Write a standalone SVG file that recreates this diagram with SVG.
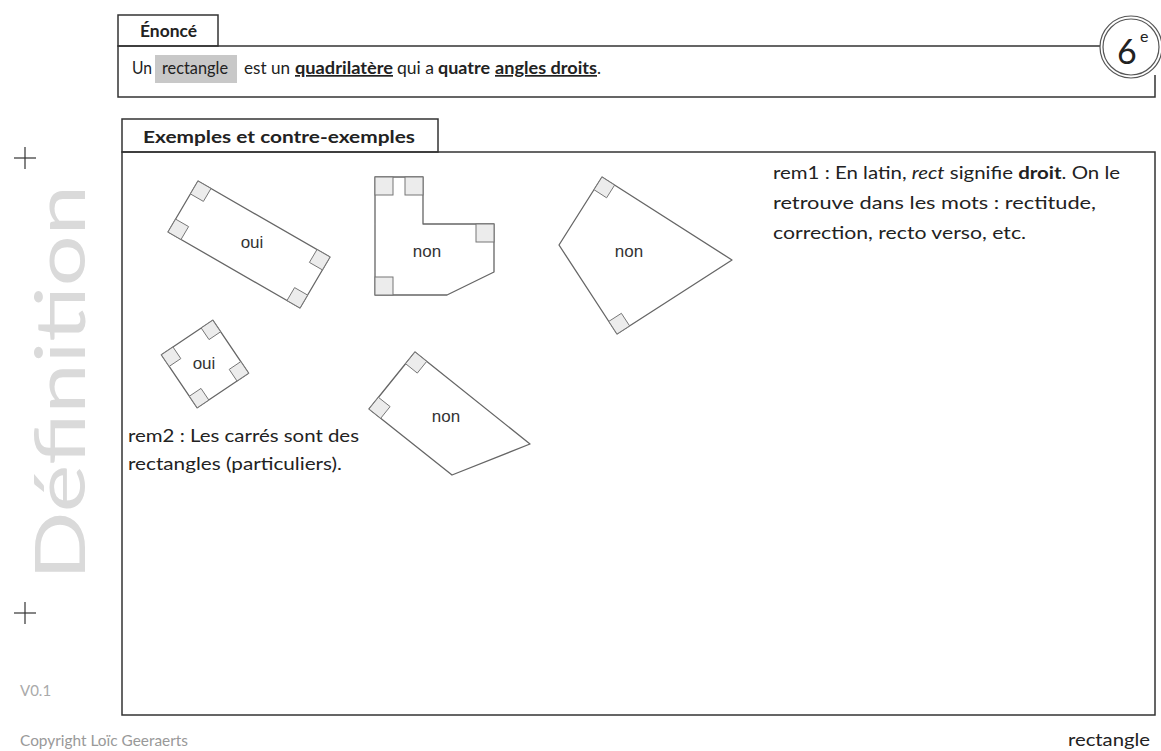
<svg xmlns="http://www.w3.org/2000/svg" width="1161" height="751" viewBox="0 0 1161 751">
<defs>
<style>
.box{fill:none;stroke:#333;stroke-width:1.5}
.tab{fill:#fff;stroke:#333;stroke-width:1.5}
.shape{fill:#fff;stroke:#666;stroke-width:1.3;stroke-linejoin:round}
.ra{fill:#ececec;stroke:#777;stroke-width:1}
.t{font-family:Lato,"Liberation Sans",sans-serif;font-size:17px;fill:#222}
.b{font-weight:bold}
.i{font-style:italic}
.u{text-decoration:underline}
.lbl{font-family:"Liberation Sans",Arial,sans-serif;font-size:17px;fill:#333;text-anchor:middle}
.cross{stroke:#333;stroke-width:1.2}
</style>
</defs>
<rect width="1161" height="751" fill="#fff"/>

<g id="sidebar">
<line class="cross" x1="14" y1="158" x2="36" y2="158"/>
<line class="cross" x1="25" y1="147" x2="25" y2="169"/>
<text transform="translate(85,580) rotate(-90)" font-family="Lato,'Liberation Sans',sans-serif" font-weight="400" font-size="70" fill="#dadada" textLength="395" lengthAdjust="spacingAndGlyphs">Définition</text>
<line class="cross" x1="14" y1="613" x2="36" y2="613"/>
<line class="cross" x1="25" y1="602" x2="25" y2="624"/>
<text x="20" y="696" font-family="Lato,'Liberation Sans',sans-serif" font-size="15" fill="#aaa">V0.1</text>
<text x="20" y="746" font-family="Lato,'Liberation Sans',sans-serif" font-size="16" fill="#999" textLength="168" lengthAdjust="spacingAndGlyphs">Copyright Loïc Geeraerts</text>
</g>

<g id="enonce">
<rect class="tab" x="118" y="15" width="100" height="31"/>
<text class="t b" x="140" y="37" textLength="57" lengthAdjust="spacingAndGlyphs">Énoncé</text>
<path class="box" d="M1100,46 H118 V97 H1155 V75"/>
<rect x="155" y="55" width="82" height="28" fill="#c8c8c8"/>
<text class="t" x="132" y="74" textLength="20" lengthAdjust="spacingAndGlyphs">Un</text>
<text class="t" x="162" y="74" textLength="66" lengthAdjust="spacingAndGlyphs">rectangle</text>
<text class="t" x="244" y="74" textLength="46" lengthAdjust="spacingAndGlyphs">est un</text>
<text class="t b u" x="295" y="74" textLength="98" lengthAdjust="spacingAndGlyphs">quadrilatère</text>
<text class="t" x="397" y="74" textLength="37" lengthAdjust="spacingAndGlyphs">qui a</text>
<text class="t b" x="438" y="74" textLength="52" lengthAdjust="spacingAndGlyphs">quatre</text>
<text class="t b u" x="495" y="74" textLength="102" lengthAdjust="spacingAndGlyphs">angles droits</text>
<text class="t" x="597" y="74">.</text>
</g>

<g id="niveau">
<circle cx="1131" cy="47" r="31" fill="#fff" stroke="#555" stroke-width="1.2"/>
<circle cx="1131" cy="47" r="28" fill="#fff" stroke="#555" stroke-width="1.2"/>
<text x="1117" y="64" font-family="Lato,'Liberation Sans',sans-serif" font-size="34" fill="#222">6</text>
<text x="1140" y="42" font-family="Lato,'Liberation Sans',sans-serif" font-size="16" fill="#222">e</text>
</g>

<g id="exemples">
<rect class="tab" x="122" y="119" width="316" height="33"/>
<text class="t b" x="143" y="143" textLength="272" lengthAdjust="spacingAndGlyphs">Exemples et contre-exemples</text>
<rect class="box" x="122" y="152" width="1033" height="563"/>
</g>

<g id="rect-oui">
<polygon class="shape" points="198,181 330,257 300,308 168,232"/>
<polygon class="ra" points="198,181 211,188.5 203.4,201.4 190.4,193.9"/>
<polygon class="ra" points="330,257 317,249.5 309.4,262.4 322.4,269.9"/>
<polygon class="ra" points="300,308 287,300.5 294.6,287.6 307.6,295.1"/>
<polygon class="ra" points="168,232 181,239.5 188.6,226.6 175.6,219.1"/>
<text class="lbl" x="252" y="248">oui</text>
</g>

<g id="L-non">
<polygon class="shape" points="375,177 423,177 423,224 494,224 494,272 447,295 375,295"/>
<rect class="ra" x="375" y="177" width="18" height="18"/>
<rect class="ra" x="405" y="177" width="18" height="18"/>
<rect class="ra" x="476" y="224" width="18" height="18"/>
<rect class="ra" x="375" y="277" width="18" height="18"/>
<text class="lbl" x="427" y="257">non</text>
</g>

<g id="kite-non">
<polygon class="shape" points="602,177 732,260 617,334 559,245"/>
<polygon class="ra" points="602,177 594,189.7 606.6,197.8 614.6,185.1"/>
<polygon class="ra" points="617,334 608.8,321.4 621.4,313.3 629.6,325.9"/>
<text class="lbl" x="629" y="257">non</text>
</g>

<g id="square-oui">
<polygon class="shape" points="212.8,320.2 248.6,373.2 197.2,407.8 161.4,354.8"/>
<polygon class="ra" points="212.8,320.2 220.6,331.8 209,339.6 201.2,328"/>
<polygon class="ra" points="248.6,373.2 240.8,361.6 229.2,369.4 237,381"/>
<polygon class="ra" points="197.2,407.8 189.4,396.2 201,388.4 208.8,400"/>
<polygon class="ra" points="161.4,354.8 169.2,366.4 180.8,358.6 173,347"/>
<text class="lbl" x="204" y="369">oui</text>
</g>

<g id="quad-non">
<polygon class="shape" points="415,352 530,444 452,475 369,409"/>
<polygon class="ra" points="415,352 405.6,363.7 417.3,373.1 426.7,361.4"/>
<polygon class="ra" points="369,409 378.4,397.3 390.1,406.6 380.7,418.3"/>
<text class="lbl" x="446" y="422">non</text>
</g>

<g id="rem1">
<text class="t" x="773" y="179" textLength="347" lengthAdjust="spacingAndGlyphs">rem1 : En latin, <tspan class="i">rect</tspan> signifie <tspan class="b">droit</tspan>. On le</text>
<text class="t" x="773" y="209" textLength="323" lengthAdjust="spacingAndGlyphs">retrouve dans les mots : rectitude,</text>
<text class="t" x="773" y="239" textLength="253" lengthAdjust="spacingAndGlyphs">correction, recto verso, etc.</text>
</g>

<g id="rem2">
<text class="t" x="128" y="442" textLength="231" lengthAdjust="spacingAndGlyphs">rem2 : Les carrés sont des</text>
<text class="t" x="128" y="470" textLength="214" lengthAdjust="spacingAndGlyphs">rectangles (particuliers).</text>
</g>

<g id="footer">
<text class="t" x="1150" y="746" text-anchor="end" textLength="82" lengthAdjust="spacingAndGlyphs">rectangle</text>
</g>

<g id="connectors"></g>
</svg>
